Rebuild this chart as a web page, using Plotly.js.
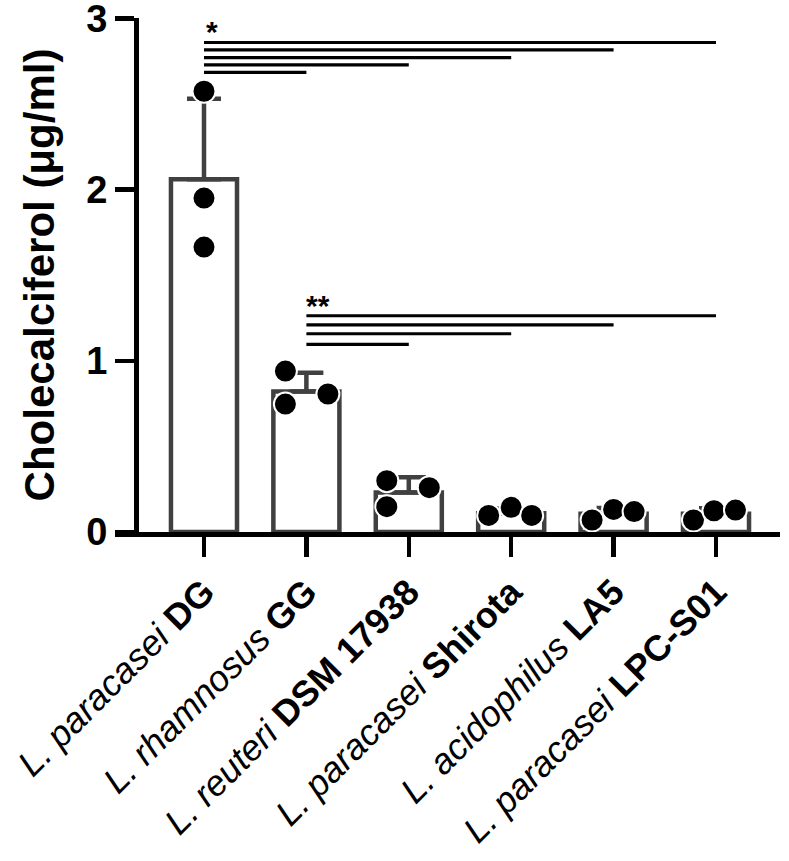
<!DOCTYPE html>
<html>
<head>
<meta charset="utf-8">
<script src="https://cdn.plot.ly/plotly-3.0.1.min.js"></script>
<style>
  body { margin: 0; background: #fff; }
  #chart { width: 789px; height: 861px; }
</style>
</head>
<body>
<div id="chart"></div>
<script>
// strains (italic species + bold strain name)
var species = ['L. paracasei', 'L. rhamnosus', 'L. reuteri', 'L. paracasei', 'L. acidophilus', 'L. paracasei'];
var strains = ['DG', 'GG', 'DSM 17938', 'Shirota', 'LA5', 'LPC-S01'];

// bar heights (mean) and SD, µg/ml
var means = [2.06, 0.82, 0.23, 0.11, 0.107, 0.107];
var sds   = [0.47, 0.11, 0.09, 0.027, 0.033, 0.032];

// single replicates, three per strain
var rep1 = [2.574, 0.94, 0.30, 0.097, 0.07, 0.07];
var rep2 = [1.95, 0.747, 0.148, 0.144, 0.132, 0.124];
var rep3 = [1.664, 0.806, 0.259, 0.097, 0.119, 0.128];

// horizontal spread of the dots (category units)
var jit1 = [0, -0.205, -0.215, -0.22, -0.21, -0.22];
var jit2 = [0, -0.205, -0.215, 0.0, 0.0, -0.02];
var jit3 = [0, 0.21, 0.2, 0.2, 0.2, 0.19];

// significance brackets
var sigA_from = 0, sigA_to = [5, 4, 3, 2, 1];
var sigA_y = [2.859, 2.816, 2.771, 2.728, 2.684];
var sigB_from = 1, sigB_to = [5, 4, 3, 2];
var sigB_y = [1.263, 1.210, 1.158, 1.096];

var idx = species.map(function(s, i){ return i; });
var ticks = species.map(function(s, i){ return '<i>' + s + '</i> <b>' + strains[i] + '</b>'; });

var FONT = 'Arial, "Liberation Sans", Helvetica, sans-serif';
var GREY = '#404040';

var bars = {
  type: 'bar',
  x: idx,
  y: means,
  width: 0.645,
  marker: { color: '#ffffff', line: { color: GREY, width: 4.5 } },
  error_y: {
    type: 'data', symmetric: false,
    array: sds, arrayminus: sds.map(function(){ return 0; }),
    color: GREY, thickness: 4.5, width: 17
  },
  showlegend: false
};

var dx = [], dy = [];
for (var i = 0; i < idx.length; i++) {
  dx.push(idx[i] + jit1[i], idx[i] + jit2[i], idx[i] + jit3[i]);
  dy.push(rep1[i], rep2[i], rep3[i]);
}
var dots = {
  type: 'scatter',
  mode: 'markers',
  x: dx,
  y: dy,
  marker: { size: 23, color: '#000000', line: { color: '#ffffff', width: 2 } },
  showlegend: false
};

var shapes = [];
sigA_to.forEach(function(t, k){
  shapes.push({ type: 'line', xref: 'x', yref: 'y', x0: sigA_from, x1: t, y0: sigA_y[k], y1: sigA_y[k],
    line: { color: '#000', width: 3.2 } });
});
sigB_to.forEach(function(t, k){
  shapes.push({ type: 'line', xref: 'x', yref: 'y', x0: sigB_from, x1: t, y0: sigB_y[k], y1: sigB_y[k],
    line: { color: '#000', width: 3.2 } });
});

var layout = {
  width: 789,
  height: 861,
  margin: { l: 115, r: 9, t: 18, b: 329 },
  paper_bgcolor: '#fff',
  plot_bgcolor: '#fff',
  font: { family: FONT, color: '#000' },
  bargap: 0,
  xaxis: {
    range: [-0.869, 5.625],
    tickvals: idx,
    ticktext: ticks,
    tickangle: -45,
    tickfont: { size: 36, family: FONT, color: '#000' },
    ticks: 'outside', ticklen: 20, tickwidth: 4.5, tickcolor: '#000',
    showline: true, linewidth: 4.5, linecolor: '#000',
    showgrid: false, zeroline: false, fixedrange: true
  },
  yaxis: {
    range: [0, 3.002],
    anchor: 'free',
    position: 0.0316,
    tickvals: [0, 1, 2, 3],
    ticklabeloverflow: 'allow',
    tickfont: { size: 38, family: FONT, color: '#000', weight: 700 },
    ticks: 'outside', ticklen: 19, tickwidth: 4.5, tickcolor: '#000',
    showline: true, linewidth: 4.5, linecolor: '#000',
    showgrid: false, zeroline: false, fixedrange: true,
    title: { text: 'Cholecalciferol (μg/ml)', standoff: 17,
             font: { size: 42, family: FONT, color: '#000', weight: 700 } }
  },
  shapes: shapes,
  annotations: [
    { x: sigA_from, y: sigA_y[0], xref: 'x', yref: 'y', text: '<b>*</b>', showarrow: false,
      xanchor: 'left', yanchor: 'bottom', xshift: 0, yshift: -8, font: { size: 30, family: FONT, color: '#000' } },
    { x: sigB_from, y: sigB_y[0], xref: 'x', yref: 'y', text: '<b>**</b>', showarrow: false,
      xanchor: 'left', yanchor: 'bottom', xshift: -2, yshift: -8, font: { size: 30, family: FONT, color: '#000' } }
  ]
};

Plotly.newPlot('chart', [bars, dots], layout, { staticPlot: true });
</script>
</body>
</html>
